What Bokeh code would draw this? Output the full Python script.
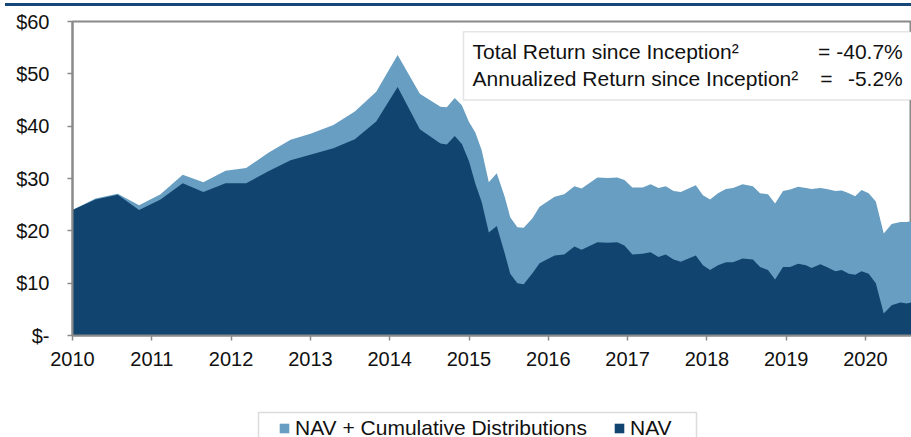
from bokeh.plotting import figure
from bokeh.models import (Range1d, FixedTicker, Legend, LegendItem, Label,
                          BoxAnnotation, Div)
from bokeh.layouts import column
from bokeh.embed import file_html
from bokeh.resources import INLINE

# ---- data ----
years = [2010.00, 2010.29, 2010.57, 2010.84, 2011.11, 2011.39, 2011.65, 2011.93,
         2012.19, 2012.47, 2012.75, 2013.01, 2013.29, 2013.56, 2013.83, 2014.10,
         2014.38, 2014.64, 2014.72, 2014.82, 2014.91, 2015.00, 2015.08, 2015.16,
         2015.25, 2015.35, 2015.45, 2015.52, 2015.61, 2015.69, 2015.80, 2015.89,
         2016.08, 2016.20, 2016.33, 2016.42, 2016.62, 2016.75, 2016.87, 2016.96,
         2017.06, 2017.19, 2017.29, 2017.39, 2017.48, 2017.58, 2017.67, 2017.86,
         2017.95, 2018.04, 2018.14, 2018.24, 2018.33, 2018.45, 2018.58, 2018.67,
         2018.77, 2018.86, 2018.96, 2019.05, 2019.15, 2019.25, 2019.32, 2019.43,
         2019.51, 2019.62, 2019.70, 2019.79, 2019.87, 2019.95, 2020.04, 2020.13,
         2020.23, 2020.33, 2020.44, 2020.52, 2020.60]

nav = [24.0, 26.0, 26.9, 24.0, 26.0, 29.1, 27.4, 29.1,
       29.1, 31.4, 33.5, 34.6, 35.8, 37.5, 40.9, 47.5,
       39.4, 36.7, 36.5, 38.1, 36.6, 33.3, 29.0, 25.5,
       19.7, 20.9, 15.7, 11.8, 10.0, 9.8, 11.9, 13.8,
       15.3, 15.5, 17.0, 16.4, 17.8, 17.7, 17.8, 17.2,
       15.5, 15.6, 15.9, 15.0, 15.5, 14.5, 14.1, 15.3,
       13.4, 12.5, 13.4, 14.0, 14.0, 14.7, 14.5, 13.1,
       12.5, 10.7, 13.1, 13.1, 13.7, 13.4, 12.9, 13.6,
       13.1, 12.3, 12.5, 11.8, 11.6, 12.3, 11.8, 10.0,
       4.2, 5.8, 6.3, 6.1, 6.4]

nav_plus_dist = [24.0, 26.2, 27.1, 24.9, 27.0, 30.7, 29.3, 31.5,
                 32.0, 34.9, 37.4, 38.6, 40.2, 42.8, 46.6, 53.6,
                 46.2, 43.7, 43.6, 45.4, 44.0, 40.8, 38.8, 35.4,
                 29.3, 31.0, 26.5, 22.6, 20.7, 20.6, 22.4, 24.6,
                 26.5, 27.0, 28.5, 28.1, 30.2, 30.1, 30.2, 29.7,
                 28.3, 28.3, 28.9, 28.2, 28.5, 27.6, 27.4, 28.7,
                 26.8, 26.0, 27.2, 28.0, 28.2, 28.9, 28.5, 27.2,
                 27.0, 25.2, 27.6, 27.9, 28.4, 28.2, 28.0, 28.2,
                 28.0, 27.6, 27.7, 27.2, 26.6, 27.8, 27.2, 25.6,
                 19.5, 21.3, 21.7, 21.7, 21.9]

x_ticks = [2010, 2011, 2012, 2013, 2014, 2015, 2016, 2017, 2018, 2019, 2020]
y_ticks = [0, 10, 20, 30, 40, 50, 60]
y_tick_labels = ["$-", "$10", "$20", "$30", "$40", "$50", "$60"]

series_names = ["NAV + Cumulative Distributions", "NAV"]
stat_labels = ["Total Return since Inception\u00b2",
               "Annualized Return since Inception\u00b2"]
stat_values = ["-40.7%", "-5.2%"]

LIGHT = "#679ec1"
DARK = "#11446f"
AXIS = "#8a8a8a"
TXT = "#111111"
FONT = "Liberation Sans"

p = figure(width=911, height=394, output_backend="svg", toolbar_location=None,
           x_range=Range1d(2010, 2020.58), y_range=Range1d(0, 60),
           min_border_left=72, min_border_right=0, min_border_top=15,
           min_border_bottom=65)

r_total = p.varea(x=years, y1=0, y2=nav_plus_dist, fill_color=LIGHT)
r_nav = p.varea(x=years, y1=0, y2=nav, fill_color=DARK)

p.xgrid.visible = False
p.ygrid.visible = False
p.outline_line_color = AXIS
p.outline_line_width = 2

for ax in (p.xaxis[0], p.yaxis[0]):
    ax.axis_line_color = AXIS
    ax.axis_line_width = 2
    ax.major_tick_line_color = AXIS
    ax.major_tick_line_width = 1.5
    ax.major_tick_out = 5
    ax.major_tick_in = 0
    ax.minor_tick_line_color = None
    ax.major_label_text_font = FONT
    ax.major_label_text_font_size = "20px"
    ax.major_label_text_color = TXT

p.xaxis.ticker = FixedTicker(ticks=x_ticks)
p.xaxis.major_label_overrides = {t: str(t) for t in x_ticks}
p.xaxis.major_label_standoff = 11
p.yaxis.ticker = FixedTicker(ticks=y_ticks)
p.yaxis.major_label_overrides = dict(zip(y_ticks, y_tick_labels))
p.yaxis.major_label_standoff = 18

# statistics box
p.add_layout(BoxAnnotation(left=2014.93, right=2021.5, bottom=45.0, top=58.05,
                           fill_color="white", fill_alpha=1.0,
                           line_color="#a6a6a6", line_width=1.5))
for i, (lab, val, ly) in enumerate(zip(stat_labels, stat_values, [54.3, 49.2])):
    p.add_layout(Label(x=2015.045, y=ly, text=lab, text_font=FONT,
                       text_font_size="21px", text_color=TXT,
                       text_baseline="alphabetic"))
    p.add_layout(Label(x=2019.40 + 0.03 * i, y=ly, text="=", text_font=FONT,
                       text_font_size="21px", text_color=TXT,
                       text_baseline="alphabetic"))
    p.add_layout(Label(x=2020.47, y=ly, text=val, text_font=FONT,
                       text_font_size="21px", text_color=TXT, text_align="right",
                       text_baseline="alphabetic"))

# legend strip below the chart; its ranges are in pixels of the strip, so the
# areas (years ~2010) fall outside and only serve as legend swatches
lg = figure(width=911, height=37, output_backend="svg", toolbar_location=None,
            x_range=Range1d(72, 911), y_range=Range1d(0, 37),
            x_axis_type=None, y_axis_type=None,
            min_border_left=0, min_border_right=0, min_border_top=0,
            min_border_bottom=0)
lg.outline_line_color = None
lg.xgrid.visible = False
lg.ygrid.visible = False
l_total = lg.varea(x=years, y1=0, y2=nav_plus_dist, fill_color=LIGHT)
l_nav = lg.varea(x=years, y1=0, y2=nav, fill_color=DARK)

lg.add_layout(BoxAnnotation(left=258, right=696, top=25, bottom=-10,
                            fill_color="white", fill_alpha=1.0,
                            line_color=AXIS, line_width=1.5, level="underlay"))

legend = Legend(items=[LegendItem(label=series_names[0], renderers=[l_total]),
                       LegendItem(label=series_names[1], renderers=[l_nav])],
                orientation="horizontal", location=(206, -3),
                glyph_width=12, glyph_height=12, label_standoff=5, spacing=26,
                padding=5, margin=0, label_text_font=FONT,
                label_text_font_size="21px", label_text_color=TXT,
                border_line_color=None, background_fill_alpha=0.0)
lg.add_layout(legend, "center")

top_rule = Div(text="", width=906, height=3, margin=(3, 0, 0, 5),
               styles={"background-color": "#17477a"})

layout = column(top_rule, p, lg, spacing=0)
open("out.html", "w").write(file_html(layout, INLINE))
